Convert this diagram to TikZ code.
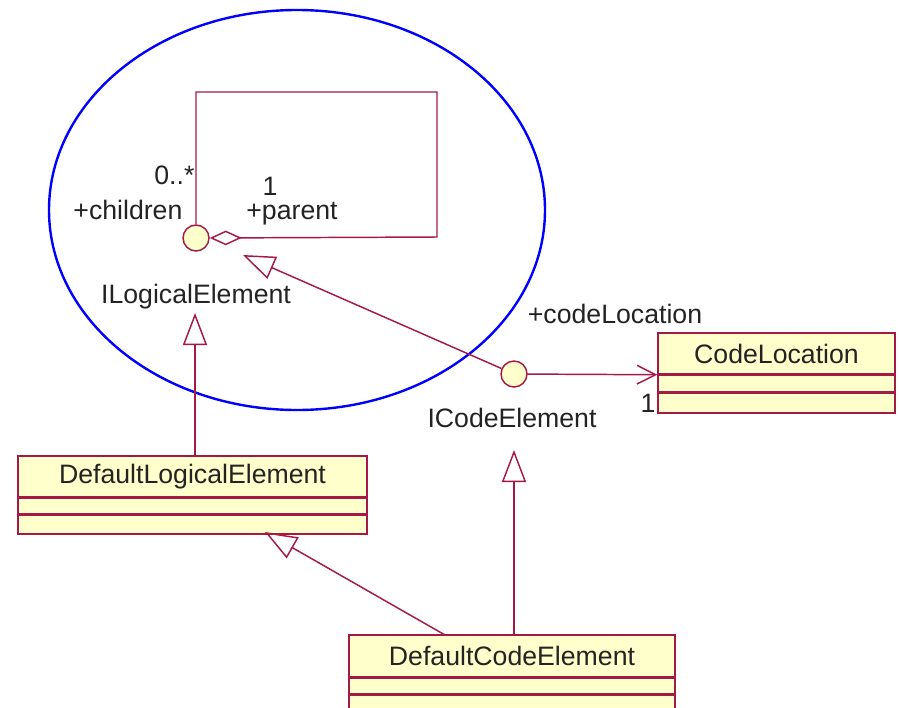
\documentclass[tikz,border=0pt]{standalone}
\usepackage{fontspec}
\setmainfont{Liberation Sans}
\usetikzlibrary{arrows.meta,positioning}
\definecolor{umlline}{RGB}{165,25,70}
\definecolor{umlfill}{RGB}{255,255,204}
\definecolor{umltext}{RGB}{35,35,35}
\begin{document}
\begin{tikzpicture}[x=0.75pt,y=-0.75pt,font=\fontsize{20}{22}\selectfont,text=umltext,
	classname/.style={draw=umlline,fill=umlfill,line width=1.1pt,inner sep=0pt,minimum height=30.75pt},
	compart/.style={draw=umlline,fill=umlfill,line width=1.1pt,inner sep=0pt},
	iface/.style={circle,draw=umlline,fill=umlfill,line width=1.1pt,minimum size=19.5pt,inner sep=0pt},
	role/.style={inner sep=1pt},
	gen/.style={draw=umlline,line width=1.1pt,-{Triangle[open,length=24pt,width=18pt]}},
	assoc/.style={draw=umlline,line width=1.1pt}]
\path[use as bounding box,clip] (0,0) rectangle (899,707);
% focus ring
\draw[blue,line width=1.8pt] (297,210) ellipse [x radius=186pt,y radius=150pt];
% interfaces
\node [iface] (ile) at (196,238) {};
\node (ilename) at (196,297) {ILogicalElement};
\node [iface] (ice) at (514,374) {};
\node (icename) at (512,418) {ICodeElement};
% classes
\node [classname,minimum width=261.75pt] (dle) at (192.5,476.5) {DefaultLogicalElement};
\node [compart,minimum width=261.75pt,minimum height=11.25pt,below=0pt of dle] (dle1) {};
\node [compart,minimum width=261.75pt,minimum height=14.25pt,below=0pt of dle1] (dle2) {};
\node [classname,minimum width=177.75pt] (cl) at (776.5,353.5) {CodeLocation};
\node [compart,minimum width=177.75pt,minimum height=12pt,below=0pt of cl] (cl1) {};
\node [compart,minimum width=177.75pt,minimum height=15pt,below=0pt of cl1] (cl2) {};
\node [classname,minimum width=244.5pt,minimum height=31.5pt] (dce) at (512,656) {DefaultCodeElement};
\node [compart,minimum width=244.5pt,minimum height=11.25pt,below=0pt of dce] (dce1) {};
\node [compart,minimum width=244.5pt,minimum height=15pt,below=0pt of dce1] (dce2) {};
% self association
\coordinate (selftl) at (196,92);
\coordinate (selftr) at (437,92);
\coordinate (selfbr) at (437,237);
\draw[assoc,{Diamond[open,length=24pt,width=11pt]}-] (ile.east) -- (selfbr) -- (selftr) -- (selftl) -- (ile.north);
\node [role,anchor=east] (mchild) at (196,175) {0..*};
\node [role,anchor=east] (rchild) at (184,210) {+children};
\node [role] (mparent) at (270,186) {1};
\node [role] (rparent) at (292,214) {+parent};
% navigable association
\draw[assoc,-{Straight Barb[length=14pt,width=14pt]}] (ice) -- (cl.south west);
\node [role] (rloc) at (615,314) {+codeLocation};
\node [role] (mloc) at (648,403) {1};
% realisations
\coordinate (ilegen) at (243,255);
\coordinate (ilefoot) at (195,313);
\coordinate (icefoot) at (514,450);
\coordinate (dlegen) at (265,532);
\coordinate (dcetop) at (445,635);
\draw[gen] (ice) -- (ilegen);
\draw[gen] (ilefoot |- dle.north) -- (ilefoot);
\draw[gen] (icefoot |- dce.north) -- (icefoot);
\draw[gen] (dcetop) -- (dlegen);
\end{tikzpicture}
\end{document}
